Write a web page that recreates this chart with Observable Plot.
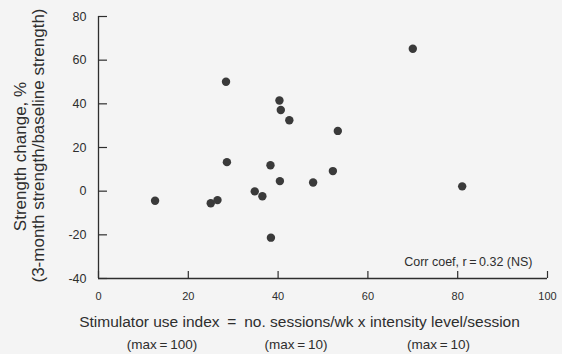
<!DOCTYPE html>
<html><head><meta charset="utf-8">
<script src="https://cdn.jsdelivr.net/npm/d3@7"></script>
<script src="https://cdn.jsdelivr.net/npm/@observablehq/plot@0.6"></script>
<style>
html,body{margin:0;padding:0;background:#f4f4f4;}
#chart svg{display:block;background:#f4f4f4;font-family:"Liberation Sans",Arial,Helvetica,sans-serif;}
</style></head><body><div id="chart"></div>
<script>
// Stimulator use index (x) and strength change % (y)
const useIndex       = [12.6, 25.0, 26.5, 28.4, 28.6, 34.8, 36.5, 38.3, 38.4, 40.3, 40.6, 42.5, 40.4, 47.8, 52.2, 53.3, 70.0, 81.0];
const strengthChange = [-4.4, -5.5, -4.1, 50.1, 13.3, -0.1, -2.3, 11.9, -21.3, 41.5, 37.2, 32.5, 4.6, 4.0, 9.2, 27.6, 65.2, 2.2];
const xTicks = [0, 20, 40, 60, 80, 100];
const yTicks = [-40, -20, 0, 20, 40, 60, 80];
const yTitle1 = "Strength change, %";
const yTitle2 = "(3-month strength/baseline strength)";
const xTitle = "Stimulator use index\u2002=\u2002no. sessions/wk x intensity level/session";
const xSubLabels = ["(max\u2009=\u2009100)", "(max\u2009=\u200910)", "(max\u2009=\u200910)"];
const corrLabel = "Corr coef, r\u2009=\u20090.32 (NS)";

const points = useIndex.map((x, i) => ({x, y: strengthChange[i]}));
const ink = "#2e2e2e";
const xMin = 0, yMin = -40;          // axis origin
const xTickLen = 3.2, yTickLen = 2;  // inward tick lengths (data units)

const chart = Plot.plot({
  width: 562,
  height: 354,
  marginLeft: 98,
  marginRight: 15,
  marginTop: 16,
  marginBottom: 76,
  style: {background: "#f4f4f4", color: ink},
  x: {domain: [0, 100]},
  y: {domain: [-40, 80]},
  marks: [
    Plot.ruleX([xMin], {stroke: ink, strokeWidth: 1.3}),
    Plot.ruleY([yMin], {stroke: ink, strokeWidth: 1.3}),
    Plot.ruleX(xTicks, {x: d => d, y1: yMin, y2: yMin + xTickLen, stroke: ink, strokeWidth: 1.2}),
    Plot.ruleY(yTicks, {y: d => d, x1: xMin, x2: xMin + yTickLen, stroke: ink, strokeWidth: 1.2}),
    Plot.axisX(xTicks, {tickSize: 0, tickPadding: 14, fontSize: 11, color: ink, tickFormat: d => String(d), label: null}),
    Plot.axisY(yTicks, {tickSize: 0, tickPadding: 12, fontSize: 12.5, color: ink, tickFormat: d => String(d), label: null}),
    Plot.dot(points, {x: "x", y: "y", r: 4.2, fill: "#3a3a3a", stroke: "none"}),
    Plot.text([corrLabel], {text: d => d, frameAnchor: "bottom-right", textAnchor: "end", lineAnchor: "middle", dx: -15, dy: -17, fontSize: 12.5, fill: ink}),
    Plot.text([yTitle1], {text: d => d, frameAnchor: "left", rotate: -90, textAnchor: "middle", lineAnchor: "middle", dx: -78, dy: 9, fontSize: 17, fill: ink}),
    Plot.text([yTitle2], {text: d => d, frameAnchor: "left", rotate: -90, textAnchor: "middle", lineAnchor: "middle", dx: -60, dy: -2, fontSize: 17, fill: ink}),
    Plot.text([xTitle], {text: d => d, frameAnchor: "bottom", textAnchor: "middle", lineAnchor: "middle", dx: -23.5, dy: 44, fontSize: 15.5, fill: ink}),
    Plot.text([xSubLabels[0]], {text: d => d, frameAnchor: "bottom", textAnchor: "middle", lineAnchor: "middle", dx: -161, dy: 66, fontSize: 13.5, fill: ink}),
    Plot.text([xSubLabels[1]], {text: d => d, frameAnchor: "bottom", textAnchor: "middle", lineAnchor: "middle", dx: -27, dy: 66, fontSize: 13.5, fill: ink}),
    Plot.text([xSubLabels[2]], {text: d => d, frameAnchor: "bottom", textAnchor: "middle", lineAnchor: "middle", dx: 115.5, dy: 66, fontSize: 13.5, fill: ink})
  ]
});
document.getElementById("chart").appendChild(chart);
</script>
</body></html>
